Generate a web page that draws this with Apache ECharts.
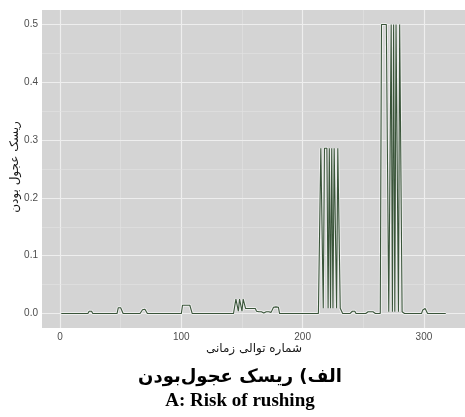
<!DOCTYPE html>
<html>
<head>
<meta charset="utf-8">
<script src="https://cdn.jsdelivr.net/npm/echarts@6/dist/echarts.min.js"></script>
<style>
  html, body { margin: 0; padding: 0; background: #ffffff; }
  #chart { width: 465px; height: 417px; }
</style>
</head>
<body>
<div id="chart"></div>
<script>
// Risk of rushing, one value per step of the time sequence (steps 1..318)
const riskValues = [
  0, 0, 0, 0, 0, 0, 0, 0, 0, 0,
  0, 0, 0, 0, 0, 0, 0, 0, 0, 0,
  0, 0, 0, 0.004, 0.003, 0.004, 0, 0, 0, 0,
  0, 0, 0, 0, 0, 0, 0, 0, 0, 0,
  0, 0, 0, 0, 0, 0, 0, 0.01, 0.01, 0.01,
  0.01, 0, 0, 0, 0, 0, 0, 0, 0, 0,
  0, 0, 0, 0, 0, 0, 0, 0.0065, 0.0075, 0.0075,
  0.0065, 0, 0, 0, 0, 0, 0, 0, 0, 0,
  0, 0, 0, 0, 0, 0, 0, 0, 0, 0,
  0, 0, 0, 0, 0, 0, 0, 0, 0, 0,
  0.0143, 0.0143, 0.0143, 0.0143, 0.0143, 0.0143, 0.0143, 0.0143, 0, 0,
  0, 0, 0, 0, 0, 0, 0, 0, 0, 0,
  0, 0, 0, 0, 0, 0, 0, 0, 0, 0,
  0, 0, 0, 0, 0, 0, 0, 0, 0, 0,
  0, 0, 0, 0, 0.025, 0.025, 0.004, 0.025, 0.024, 0.004,
  0.025, 0.022, 0.0087, 0.0087, 0.0087, 0.0087, 0.0087, 0.0087, 0.0087, 0.0087,
  0.0087, 0.004, 0.003, 0.003, 0.001, 0.003, 0.003, 0.001, 0.002, 0.003,
  0.003, 0.003, 0.002, 0.002, 0.002, 0.011, 0.0115, 0.0115, 0.0115, 0.011,
  0, 0, 0, 0, 0, 0, 0, 0, 0, 0,
  0, 0, 0, 0, 0, 0, 0, 0, 0, 0,
  0, 0, 0, 0, 0, 0, 0, 0, 0, 0,
  0, 0, 0, 0, 0.286, 0.286, 0.009, 0.286, 0.286, 0.286,
  0.009, 0.286, 0.009, 0.286, 0.009, 0.286, 0.286, 0.009, 0.286, 0.286,
  0.009, 0.009, 0, 0, 0, 0, 0, 0, 0, 0,
  0.004, 0.0057, 0.004, 0, 0, 0, 0, 0, 0, 0,
  0, 0, 0.003, 0.003, 0.003, 0.003, 0.003, 0.003, 0, 0,
  0, 0, 0, 0, 0.5, 0.5, 0.5, 0.5, 0.5, 0.5,
  0.003, 0.003, 0.5, 0.003, 0.5, 0.003, 0.5, 0.5, 0.003, 0.5,
  0.5, 0.003, 0, 0, 0, 0, 0, 0, 0, 0,
  0, 0, 0, 0, 0, 0, 0, 0, 0.006, 0.0087,
  0.0087, 0.006, 0, 0, 0, 0, 0, 0, 0, 0,
  0, 0, 0, 0, 0, 0, 0, 0
];

// Axis ticks and grid lines
const xTicks = [0, 100, 200, 300];
const xMinorTicks = [50, 150, 250];
const yTicks = [0, 0.1, 0.2, 0.3, 0.4, 0.5];
const yMinorTicks = [0.05, 0.15, 0.25, 0.35, 0.45];

// Text
const xTitle = 'شماره توالی زمانی';
const yTitle = 'ریسک عجول بودن';
const captionFa = 'الف) ریسک عجول\u200Cبودن';
const captionEn = 'A: Risk of rushing';

const points = riskValues.map((v, i) => [i + 1, v]);

const firstStep = 1;
const lastStep = riskValues.length;
const xPad = (lastStep - firstStep) * 0.05;
const yLo = 0, yHi = 0.5;
const yPad = (yHi - yLo) * 0.05;

const majorGrid = { color: '#eeeeee', width: 1.1, type: 'solid', opacity: 1 };
const minorGrid = { color: '#e3e3e3', width: 0.6, type: 'solid', opacity: 1 };
const gridLines = []
  .concat(xTicks.map(v => ({ xAxis: v, lineStyle: majorGrid })))
  .concat(xMinorTicks.map(v => ({ xAxis: v, lineStyle: minorGrid })))
  .concat(yTicks.map(v => ({ yAxis: v, lineStyle: majorGrid })))
  .concat(yMinorTicks.map(v => ({ yAxis: v, lineStyle: minorGrid })));

const sansLatin = 'Liberation Sans, Arial, sans-serif';
const sansArabic = 'DejaVu Sans, sans-serif';

const chart = echarts.init(document.getElementById('chart'), null, { renderer: 'canvas' });
chart.setOption({
  animation: false,
  backgroundColor: '#ffffff',
  grid: {
    left: 42, top: 10, width: 426, height: 318,
    show: true, backgroundColor: '#d4d4d4', borderWidth: 0
  },
  xAxis: {
    type: 'value',
    min: firstStep - xPad,
    max: lastStep + xPad,
    splitLine: { show: false },
    axisLine: { show: false },
    axisTick: { show: true, length: 3, lineStyle: { color: '#333333', width: 1 }, customValues: xTicks },
    axisLabel: { customValues: xTicks, fontSize: 10, color: '#4d4d4d', margin: 4, fontFamily: sansLatin }
  },
  yAxis: {
    type: 'value',
    min: yLo - yPad,
    max: yHi + yPad,
    splitLine: { show: false },
    axisLine: { show: false },
    axisTick: { show: true, length: 3, lineStyle: { color: '#333333', width: 1 }, customValues: yTicks },
    axisLabel: {
      customValues: yTicks, fontSize: 10, color: '#4d4d4d', margin: 4, fontFamily: sansLatin,
      formatter: v => v.toFixed(1)
    }
  },
  series: [
    {
      type: 'line',
      data: points,
      showSymbol: false,
      silent: true,
      z: 2,
      lineStyle: { color: 'rgba(255,255,255,0.6)', width: 3 },
      markLine: {
        silent: true,
        z: 1,
        symbol: ['none', 'none'],
        label: { show: false },
        lineStyle: { type: 'solid' },
        emphasis: { disabled: true },
        data: gridLines
      }
    },
    {
      type: 'line',
      data: points,
      showSymbol: false,
      silent: true,
      z: 3,
      lineStyle: { color: '#3a553a', width: 1.1 }
    }
  ],
  graphic: [
    {
      type: 'text', x: 254, y: 349, silent: true,
      style: { text: xTitle, fontSize: 12, fontFamily: sansArabic, fill: '#1a1a1a', align: 'center', verticalAlign: 'middle' }
    },
    {
      type: 'text', x: 15, y: 167, rotation: Math.PI / 2, silent: true,
      style: { text: yTitle, fontSize: 12, fontFamily: sansArabic, fill: '#1a1a1a', align: 'center', verticalAlign: 'middle' }
    },
    {
      type: 'text', x: 240, y: 377, silent: true,
      style: { text: captionFa, fontSize: 18, fontWeight: 'bold', fontFamily: sansArabic, fill: '#000000', align: 'center', verticalAlign: 'middle' }
    },
    {
      type: 'text', x: 240, y: 401, silent: true,
      style: { text: captionEn, fontSize: 19, fontWeight: 'bold', fontFamily: 'Liberation Serif, Times New Roman, serif', fill: '#000000', align: 'center', verticalAlign: 'middle' }
    }
  ]
});
</script>
</body>
</html>
